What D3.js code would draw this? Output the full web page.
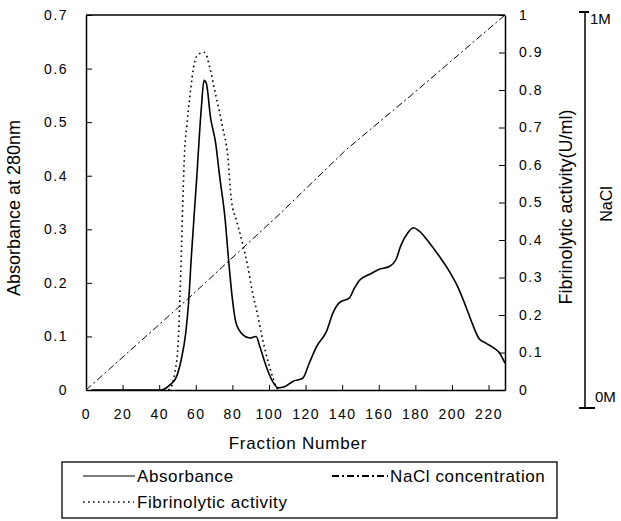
<!DOCTYPE html>
<html>
<head>
<meta charset="utf-8">
<script src="https://cdn.jsdelivr.net/npm/d3@7"></script>
<style>
  html, body { margin: 0; padding: 0; background: #fff; }
  svg { display: block; font-family: "Liberation Sans", Arial, sans-serif; }
</style>
</head>
<body>
<svg id="chart" width="621" height="521"></svg>
<script>
// ---- Data ----
const absFraction = [3, 20, 41, 46, 49.5, 52, 54.5, 56, 57.6, 60.4, 63, 64.5, 65.8, 68, 70.9, 73, 76, 78, 80, 82, 85.8, 89.5, 93, 95, 98.5, 102, 105, 108.5, 113, 118.5, 122, 126, 131.5, 135, 138.5, 144, 146.7, 149.5, 155, 160, 166, 169.5, 172, 176, 179, 182, 187.6, 193, 198.5, 203, 207.6, 211, 215, 218.5, 223, 226, 229];
const absValues   = [0, 0, 0, 0.01, 0.025, 0.056, 0.106, 0.16, 0.25, 0.39, 0.525, 0.578, 0.572, 0.51, 0.46, 0.40, 0.32, 0.24, 0.17, 0.125, 0.103, 0.097, 0.10, 0.081, 0.044, 0.016, 0.004, 0.006, 0.016, 0.022, 0.05, 0.081, 0.11, 0.144, 0.163, 0.172, 0.19, 0.205, 0.216, 0.225, 0.231, 0.244, 0.269, 0.294, 0.303, 0.297, 0.275, 0.25, 0.222, 0.194, 0.156, 0.125, 0.095, 0.0875, 0.078, 0.069, 0.05];

const actFraction = [45, 47, 48.5, 50.3, 51.3, 52.2, 52.9, 54, 55, 56.7, 59.4, 61.6, 64.9, 67.6, 70.3, 74.7, 77.4, 79.5, 82.2, 85.6, 88.4, 91, 93.8, 96.6, 99.3, 102, 104, 105];
const actValues   = [0, 0.013, 0.045, 0.12, 0.24, 0.38, 0.5, 0.645, 0.70, 0.78, 0.875, 0.896, 0.90, 0.861, 0.80, 0.70, 0.627, 0.505, 0.453, 0.39, 0.33, 0.26, 0.20, 0.133, 0.08, 0.035, 0.008, 0];

const naclFraction = [0, 55, 106, 142, 178, 229];
const naclValues   = [0, 0.24, 0.47, 0.64, 0.787, 1];

const xTicks = [0, 20, 40, 60, 80, 100, 120, 140, 160, 180, 200, 220];
const yLeftTicks = [0, 0.1, 0.2, 0.3, 0.4, 0.5, 0.6, 0.7];
const yRightTicks = [0, 0.1, 0.2, 0.3, 0.4, 0.5, 0.6, 0.7, 0.8, 0.9, 1];
const naclTicks = [0, 1];
const naclTickLabels = ["0M", "1M"];
const legendLabels = ["Absorbance", "NaCl concentration", "Fibrinolytic activity"];

// ---- Layout ----
const L = 86, R = 505, T = 15, B = 390;
const svg = d3.select("#chart");

const x = d3.scaleLinear().domain([0, 229]).range([L, R]);
const yL = d3.scaleLinear().domain([0, 0.7]).range([B, T]);
const yR = d3.scaleLinear().domain([0, 1]).range([B, T]);
const yN = d3.scaleLinear().domain([0, 1]).range([408, 12]);

// top frame line
svg.append("line").attr("x1", L).attr("x2", R).attr("y1", T).attr("y2", T)
  .attr("stroke", "#000").attr("stroke-width", 1.5);

// axes
const tickFont = g => g.selectAll("text").attr("font-size", 14).attr("fill", "#000")
  .style("letter-spacing", "1.5px").attr("font-family", "Liberation Sans, Arial, sans-serif");

svg.append("g").attr("transform", `translate(0,${B})`)
  .call(d3.axisBottom(x).tickValues(xTicks).tickFormat(d3.format("d"))
    .tickSizeInner(-5).tickSizeOuter(0).tickPadding(19))
  .call(tickFont)
  .call(g => g.select(".domain").attr("stroke-width", 1.5));

svg.append("g").attr("transform", `translate(${L},0)`)
  .call(d3.axisLeft(yL).tickValues(yLeftTicks).tickFormat(d => d === 0 ? "0" : d3.format(".1f")(d))
    .tickSizeInner(-6).tickSizeOuter(0).tickPadding(18))
  .call(tickFont)
  .call(g => g.select(".domain").attr("stroke-width", 1.5));

svg.append("g").attr("transform", `translate(${R},0)`)
  .call(d3.axisRight(yR).tickValues(yRightTicks).tickFormat(d => (d === 0 || d === 1) ? String(d) : d3.format(".1f")(d))
    .tickSizeInner(-6).tickSizeOuter(0).tickPadding(14))
  .call(tickFont)
  .call(g => g.select(".domain").attr("stroke-width", 1.5));

// NaCl axis
const naclG = svg.append("g").attr("transform", "translate(585,0)");
naclG.append("line").attr("x1", 0).attr("x2", 0).attr("y1", yN(1)).attr("y2", yN(0))
  .attr("stroke", "#000").attr("stroke-width", 1.5);
naclG.selectAll("line.tk").data(naclTicks).join("line").attr("class", "tk")
  .attr("x1", -6).attr("x2", d => d === 0 ? 10 : 4)
  .attr("y1", d => yN(d)).attr("y2", d => yN(d))
  .attr("stroke", "#000").attr("stroke-width", 2);
naclG.selectAll("text").data(naclTicks).join("text")
  .attr("x", d => d === 0 ? 10 : 5)
  .attr("y", d => d === 0 ? yN(d) - 6 : yN(d) + 12)
  .attr("font-size", 15).attr("fill", "#000")
  .text((d, i) => naclTickLabels[i]);

// axis titles
svg.append("text").attr("transform", "translate(20,208) rotate(-90)")
  .attr("text-anchor", "middle").attr("font-size", 18).text("Absorbance at 280nm");
svg.append("text").attr("transform", "translate(572,207) rotate(-90)")
  .attr("text-anchor", "middle").attr("font-size", 18).text("Fibrinolytic activity(U/ml)");
svg.append("text").attr("transform", "translate(612,204) rotate(-90)")
  .attr("text-anchor", "middle").attr("font-size", 16).text("NaCl");
svg.append("text").attr("x", 298).attr("y", 449)
  .attr("text-anchor", "middle").attr("font-size", 17).style("letter-spacing", "0.8px")
  .text("Fraction Number");

// series
const lineAbs = d3.line().x(d => x(d[0])).y(d => yL(d[1])).curve(d3.curveMonotoneX);
const lineR = d3.line().x(d => x(d[0])).y(d => yR(d[1]));

svg.append("path").datum(naclFraction.map((f, i) => [f, naclValues[i]]))
  .attr("d", lineR).attr("fill", "none").attr("stroke", "#000")
  .attr("stroke-width", 1).attr("stroke-dasharray", "7,3,2,3");

svg.append("path").datum(actFraction.map((f, i) => [f, actValues[i]]))
  .attr("d", lineR.curve(d3.curveMonotoneX)).attr("fill", "none").attr("stroke", "#000")
  .attr("stroke-width", 1.6).attr("stroke-dasharray", "1.6,3.4");

svg.append("path").datum(absFraction.map((f, i) => [f, absValues[i]]))
  .attr("d", lineAbs).attr("fill", "none").attr("stroke", "#000")
  .attr("stroke-width", 1.6);

// legend
const lg = svg.append("g");
lg.append("rect").attr("x", 62).attr("y", 462).attr("width", 495).attr("height", 56)
  .attr("fill", "none").attr("stroke", "#000").attr("stroke-width", 1.3);
const legendItems = [
  { x1: 83, x2: 135, y: 476, dash: null, w: 1.2, tx: 137, ty: 482, label: legendLabels[0] },
  { x1: 332, x2: 388, y: 476, dash: "7,3,2,3", w: 2, tx: 390, ty: 482, label: legendLabels[1] },
  { x1: 83, x2: 134, y: 502, dash: "1.6,3.4", w: 1.6, tx: 137, ty: 508, label: legendLabels[2] }
];
legendItems.forEach(it => {
  const l = lg.append("line").attr("x1", it.x1).attr("x2", it.x2).attr("y1", it.y).attr("y2", it.y)
    .attr("stroke", "#000").attr("stroke-width", it.w);
  if (it.dash) l.attr("stroke-dasharray", it.dash);
  lg.append("text").attr("x", it.tx).attr("y", it.ty).attr("font-size", 17)
    .style("letter-spacing", "0.6px").text(it.label);
});
</script>
</body>
</html>
